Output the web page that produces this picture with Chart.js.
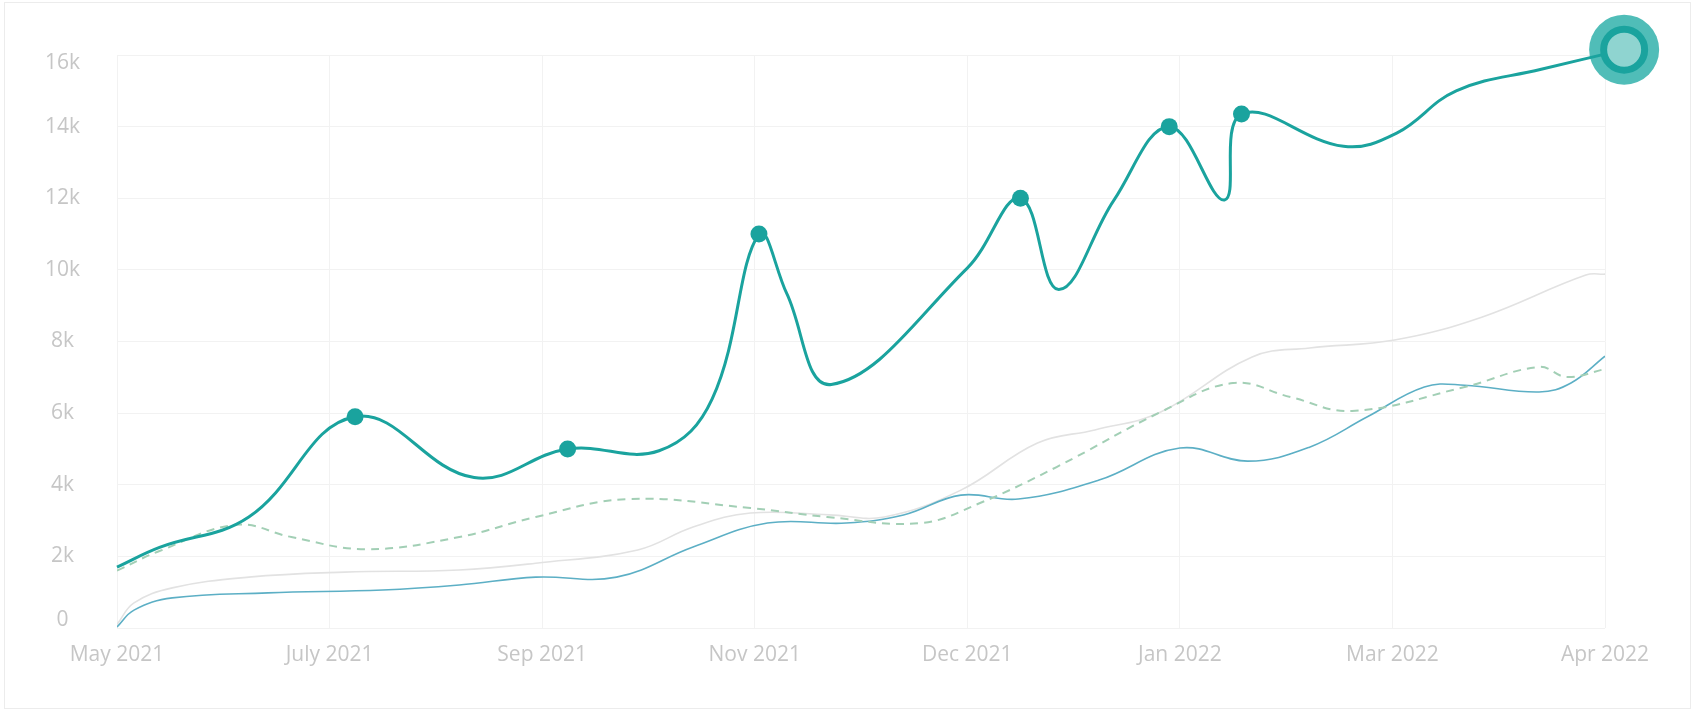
<!DOCTYPE html>
<html><head><meta charset="utf-8">
<script src="https://cdn.jsdelivr.net/npm/chart.js@4.4.1/dist/chart.umd.min.js"></script>
<style>
html,body{margin:0;padding:0;background:#fff;}
#card{position:absolute;left:4px;top:2px;width:1687px;height:707px;border:1px solid #ececec;box-sizing:border-box;}
#c{position:absolute;left:0;top:0;}
</style></head><body>
<div id="card"></div>
<canvas id="c" width="1694" height="712"></canvas>
<script>
const tickLabels = ['May 2021','July 2021','Sep 2021','Nov 2021','Dec 2021','Jan 2022','Mar 2022','Apr 2022'];
const yTicks = [0, 2000, 4000, 6000, 8000, 10000, 12000, 14000, 16000];

const mainX = [0, 0.2, 0.62, 1.12, 1.68, 2.12, 2.55, 2.8, 3.02, 3.15, 3.36, 4.0, 4.25, 4.43, 4.69, 4.95, 5.21, 5.29, 5.77, 6.02, 6.3, 6.7, 7.09];
const mainY = [1700, 2250, 3100, 5900, 4200, 5000, 4950, 6400, 11000, 9350, 6800, 10050, 12000, 9450, 11950, 14000, 11950, 14350, 13450, 13820, 15000, 15600, 16150];

const dashX = [0, 0.2, 0.56, 0.82, 1.17, 1.61, 1.97, 2.4, 2.98, 3.34, 3.78, 4.06, 4.42, 4.91, 5.25, 5.52, 5.81, 6.34, 6.69, 6.82, 7.0];
const dashY = [1600, 2150, 2880, 2540, 2200, 2540, 3100, 3600, 3350, 3100, 2930, 3490, 4495, 6030, 6840, 6450, 6060, 6730, 7290, 7010, 7230];

const greyX = [0, 0.08, 0.26, 0.62, 1.07, 1.61, 1.97, 2.45, 2.71, 2.98, 3.35, 3.61, 3.97, 4.33, 4.6, 4.91, 5.34, 5.61, 6.01, 6.42, 6.91, 7.0];
const greyY = [100, 700, 1120, 1420, 1560, 1620, 1810, 2180, 2820, 3210, 3160, 3100, 3850, 5165, 5530, 6030, 7570, 7820, 8040, 8680, 9856, 9880];

const blueX = [0, 0.08, 0.26, 0.71, 1.25, 1.61, 1.97, 2.35, 2.71, 3.06, 3.43, 3.7, 3.97, 4.24, 4.62, 5.0, 5.32, 5.61, 5.88, 6.15, 6.34, 6.69, 6.84, 7.0];
const blueY = [30, 500, 840, 980, 1060, 1200, 1420, 1420, 2260, 2930, 2930, 3155, 3710, 3600, 4130, 5025, 4660, 5050, 5890, 6730, 6780, 6590, 6840, 7590];

const markedPoints = [3, 5, 8, 12, 15, 17];

const pts = (xs, ys) => xs.map((x, i) => ({x: x, y: ys[i]}));
const lastIdx = mainX.length - 1;
const TEAL = '#1aa39e';
const yMin = yTicks[0], yMax = yTicks[yTicks.length - 1];

const mainRadius = mainX.map((_, i) => i === lastIdx ? 20.5 : (markedPoints.includes(i) ? 8.5 : 0));
const mainBg = mainX.map((_, i) => i === lastIdx ? '#8fd4d0' : TEAL);
const mainBw = mainX.map((_, i) => i === lastIdx ? 7 : 0);

new Chart(document.getElementById('c'), {
  type: 'line',
  data: {
    datasets: [
      {
        data: pts(mainX, mainY), borderColor: TEAL, borderWidth: 3, tension: 0.4,
        pointRadius: mainRadius, pointBackgroundColor: mainBg, pointBorderColor: TEAL,
        pointBorderWidth: mainBw, clip: false, capBezierPoints: false, order: 0
      },
      {
        data: [{x: mainX[lastIdx], y: mainY[lastIdx]}], showLine: false,
        pointRadius: 35, pointBackgroundColor: '#50bdb8', pointBorderWidth: 0, clip: false, order: 1
      },
      {
        data: pts(dashX, dashY), borderColor: '#a2cfb5', borderWidth: 2, borderDash: [8, 6],
        tension: 0.4, pointRadius: 0, order: 2
      },
      {
        data: pts(blueX, blueY), borderColor: '#5cafc5', borderWidth: 1.6,
        tension: 0.4, pointRadius: 0, order: 3
      },
      {
        data: pts(greyX, greyY), borderColor: '#e2e2e2', borderWidth: 1.6,
        tension: 0.4, pointRadius: 0, order: 4
      }
    ]
  },
  options: {
    responsive: false,
    animation: false,
    events: [],
    layout: { padding: { top: 55, right: 89, bottom: 0, left: 0 } },
    plugins: { legend: { display: false }, tooltip: { enabled: false } },
    scales: {
      x: {
        type: 'linear', min: 0, max: tickLabels.length - 1,
        afterBuildTicks: s => { s.ticks = tickLabels.map((_, i) => ({value: i})); },
        afterFit: s => { s.height = 84; },
        grid: { color: '#f2f2f2', lineWidth: 1, drawTicks: false },
        border: { display: false },
        ticks: {
          autoSkip: false, maxRotation: 0, padding: 14,
          color: '#c6c6c6', font: { family: '"Open Sans"', size: 21 },
          callback: v => tickLabels[v]
        }
      },
      y: {
        min: yMin, max: yMax,
        afterBuildTicks: s => { s.ticks = yTicks.map(v => ({value: v})); },
        afterFit: s => { s.width = 117; },
        grid: { color: '#f2f2f2', lineWidth: 1, drawTicks: false },
        border: { display: false },
        ticks: {
          padding: 37, crossAlign: 'center',
          color: '#c6c6c6',
          font: ctx => {
            const v = ctx.tick ? ctx.tick.value : null;
            const edge = (v === yMin || v === yMax);
            return { family: '"Open Sans"', size: 21, lineHeight: edge ? '16px' : 1.2 };
          },
          callback: v => {
            const t = v === 0 ? '0' : (v / 1000) + 'k';
            if (v === yMax) return ['', t];
            if (v === yMin) return [t, ''];
            return t;
          }
        }
      }
    }
  }
});
</script>
</body></html>
